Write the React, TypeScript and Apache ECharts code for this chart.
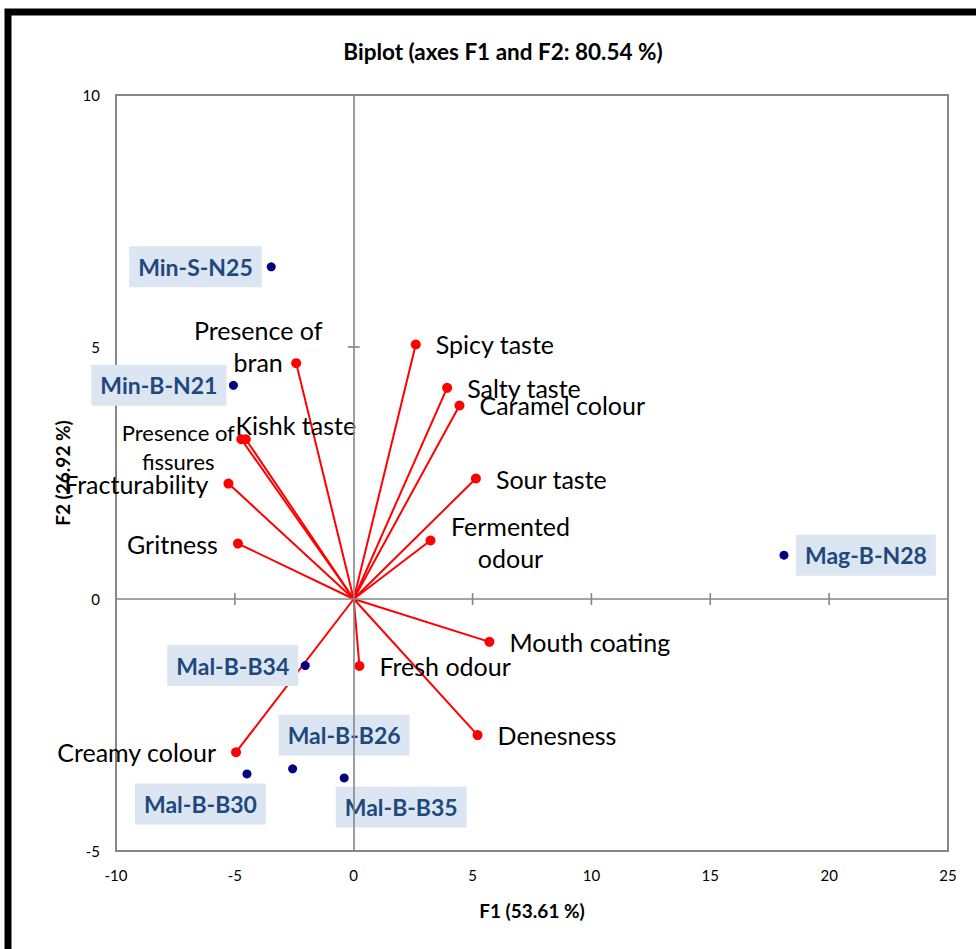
import React, { useEffect, useRef } from 'react';
import * as echarts from 'echarts';

// Axis ticks
const xTicks = [-10, -5, 0, 5, 10, 15, 20, 25];
const yTicks = [-5, 0, 5, 10];

// Variables (red vectors)
const variables = [
  'Presence of bran', 'Kishk taste', 'Presence of fissures', 'Fracturability', 'Gritness',
  'Spicy taste', 'Salty taste', 'Caramel colour', 'Sour taste', 'Fermented odour',
  'Mouth coating', 'Fresh odour', 'Denesness', 'Creamy colour',
];
const varLabels = [
  'Presence of\nbran', 'Kishk taste', 'Presence of\nfissures', 'Fracturability', 'Gritness',
  'Spicy taste', 'Salty taste', 'Caramel colour', 'Sour taste', 'Fermented\nodour',
  'Mouth coating', 'Fresh odour', 'Denesness', 'Creamy colour',
];
const varF1 = [-2.42, -4.54, -4.73, -5.27, -4.87, 2.61, 3.93, 4.45, 5.14, 3.23, 5.71, 0.24, 5.21, -4.95];
const varF2 = [4.68, 3.17, 3.17, 2.29, 1.10, 5.05, 4.19, 3.84, 2.39, 1.16, -0.85, -1.33, -2.70, -3.04];

// Observations (blue points)
const observations = ['Min-S-N25', 'Min-B-N21', 'Mag-B-N28', 'Mal-B-B34', 'Mal-B-B30', 'Mal-B-B26', 'Mal-B-B35'];
const obsF1 = [-3.47, -5.06, 18.10, -2.04, -4.49, -2.57, -0.40];
const obsF2 = [6.59, 4.24, 0.87, -1.32, -3.47, -3.37, -3.55];

const FONT = 'Lato, "Open Sans", sans-serif';

// label placement (style only)
const varLabelStyle: Record<string, any> = {
  'Presence of bran': { position: 'inside', offset: [-38, -17], lineHeight: 32 },
  'Kishk taste': { position: 'inside', offset: [50, -14] },
  'Presence of fissures': { position: 'inside', offset: [-63, 7.5], fontSize: 22, lineHeight: 29 },
  'Fracturability': { position: 'left', distance: 15 },
  'Gritness': { position: 'left', distance: 15 },
  'Creamy colour': { position: 'left', distance: 15 },
  'Fermented odour': { position: 'inside', offset: [80, 1], lineHeight: 32 },
};
const obsLabelStyle: Record<string, any> = {
  'Min-S-N25': { position: 'left', distance: 5 },
  'Min-B-N21': { position: 'left', distance: 2.5 },
  'Mal-B-B34': { position: 'left', distance: 2.5 },
  'Mag-B-N28': { position: 'right', distance: 7.5 },
  'Mal-B-B26': { position: 'inside', offset: [51.5, -33.5] },
  'Mal-B-B30': { position: 'inside', offset: [-46.5, 30] },
  'Mal-B-B35': { position: 'inside', offset: [57, 29] },
};

export default function App() {
  const ref = useRef<HTMLDivElement>(null);
  useEffect(() => {
    document.body.style.margin = '0';
    const chart = echarts.init(ref.current!, null, { renderer: 'svg' });

    const varData = variables.map((name, i) => {
      const s = varLabelStyle[name] || { position: 'right', distance: 15 };
      return {
        name,
        value: [varF1[i], varF2[i]],
        label: {
          show: true,
          formatter: varLabels[i],
          position: s.position,
          distance: s.distance ?? 5,
          offset: s.offset ?? [0, 0],
          align: s.position === 'inside' ? 'center' : undefined,
          verticalAlign: 'middle',
          fontSize: s.fontSize ?? 25,
          lineHeight: s.lineHeight ?? 30,
          color: '#000',
          fontFamily: FONT,
        },
      };
    });

    const obsData = observations.map((name, i) => {
      const s = obsLabelStyle[name];
      return {
        name,
        value: [obsF1[i], obsF2[i]],
        label: {
          show: true,
          formatter: name,
          position: s.position,
          distance: s.distance ?? 5,
          offset: s.offset ?? [0, 0],
          align: s.position === 'inside' ? 'center' : undefined,
          verticalAlign: 'middle',
          fontSize: 23,
          lineHeight: 27,
          fontWeight: 'bold',
          color: '#1F497D',
          backgroundColor: '#DCE6F2',
          padding: [7, 9],
          fontFamily: FONT,
        },
      };
    });

    const innerX = xTicks.filter((t) => t !== 0 && t !== xTicks[0] && t !== xTicks[xTicks.length - 1]);
    const innerY = yTicks.filter((t) => t !== 0 && t !== yTicks[0] && t !== yTicks[yTicks.length - 1]);

    const option: any = {
      animation: false,
      backgroundColor: '#fff',
      title: {
        text: 'Biplot (axes F1 and F2: 80.54 %)',
        left: 498,
        textAlign: 'center',
        top: 35,
        textStyle: { fontFamily: FONT, fontWeight: 'bold', fontSize: 22.5, color: '#000' },
      },
      graphic: [
        {
          type: 'rect',
          shape: { x: 8, y: 12, width: 1200, height: 1200 },
          style: { fill: 'none', stroke: '#000', lineWidth: 7 },
          silent: true,
          z: 100,
        },
      ],
      grid: {
        left: 116, right: 28, top: 95, bottom: 98,
        show: true, borderColor: '#868686', borderWidth: 2, backgroundColor: 'transparent',
      },
      xAxis: {
        type: 'value', min: -10, max: 25, interval: 5,
        axisLine: { show: false, onZero: false },
        axisTick: { show: false },
        splitLine: { show: false },
        axisLabel: { fontFamily: FONT, fontSize: 15, color: '#000', margin: 16 },
        name: 'F1 (53.61 %)',
        nameLocation: 'middle',
        nameGap: 50,
        nameTextStyle: { fontFamily: FONT, fontWeight: 'bold', fontSize: 19, color: '#000' },
      },
      yAxis: {
        type: 'value', min: -5, max: 10, interval: 5,
        axisLine: { show: false, onZero: false },
        axisTick: { show: false },
        splitLine: { show: false },
        axisLabel: { fontFamily: FONT, fontSize: 15, color: '#000', margin: 16 },
        name: 'F2 (26.92 %)',
        nameLocation: 'middle',
        nameGap: 44,
        nameTextStyle: { fontFamily: FONT, fontWeight: 'bold', fontSize: 19, color: '#000' },
      },
      series: [
        {
          type: 'scatter',
          name: 'axes',
          data: [],
          silent: true,
          markLine: {
            silent: true,
            symbol: 'none',
            label: { show: false },
            lineStyle: { color: '#868686', width: 1.6, type: 'solid' },
            data: [{ xAxis: 0 }, { yAxis: 0 }],
          },
          z: 1,
        },
        {
          type: 'scatter',
          name: 'xticks',
          silent: true,
          symbol: 'rect',
          symbolSize: [1.6, 12],
          itemStyle: { color: '#868686', opacity: 1 },
          data: innerX.map((t) => [t, 0]),
          z: 1,
        },
        {
          type: 'scatter',
          name: 'yticks',
          silent: true,
          symbol: 'rect',
          symbolSize: [12, 1.6],
          itemStyle: { color: '#868686', opacity: 1 },
          data: innerY.map((t) => [0, t]),
          z: 1,
        },
        {
          type: 'custom',
          name: 'vectors',
          silent: true,
          data: variables.map((_, i) => [varF1[i], varF2[i]]),
          renderItem: (params: any, api: any) => {
            const o = api.coord([0, 0]);
            const p = api.coord([api.value(0), api.value(1)]);
            return {
              type: 'line',
              shape: { x1: o[0], y1: o[1], x2: p[0], y2: p[1] },
              style: { stroke: '#FF0000', lineWidth: 2 },
            };
          },
          z: 2,
        },
        {
          type: 'scatter',
          name: 'Variables',
          symbol: 'circle',
          symbolSize: 10,
          itemStyle: { color: '#FF0000', opacity: 1 },
          data: varData,
          z: 3,
        },
        {
          type: 'scatter',
          name: 'Observations',
          symbol: 'circle',
          symbolSize: 9,
          itemStyle: { color: '#000080', opacity: 1 },
          data: obsData,
          z: 4,
        },
      ],
    };

    chart.setOption(option);
    return () => chart.dispose();
  }, []);
  return <div ref={ref} style={{ width: 976, height: 949 }} />;
}
